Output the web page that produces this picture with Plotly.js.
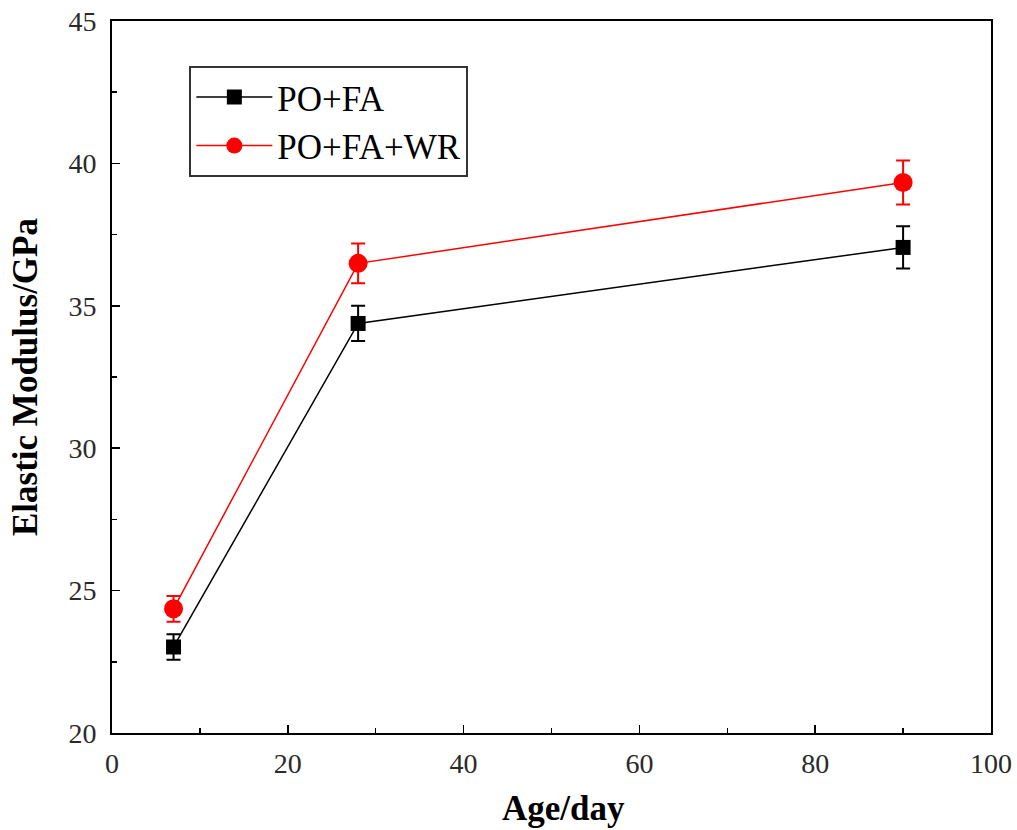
<!DOCTYPE html>
<html><head><meta charset="utf-8">
<script src="https://cdn.plot.ly/plotly-3.0.1.min.js"></script>
<style>body{margin:0;background:#fff}#c{width:1017px;height:830px}</style>
</head><body><div id="c"></div>
<script>
const ages = [7, 28, 90];
const poFA = [23.02, 34.38, 37.05];
const poFAErr = [0.45, 0.62, 0.74];
const poFAWR = [24.36, 36.49, 39.33];
const poFAWRErr = [0.45, 0.7, 0.77];
const seriesNames = ['PO+FA', 'PO+FA+WR'];
const xTitle = 'Age/day';
const yTitle = 'Elastic Modulus/GPa';

const font = 'Liberation Serif, Times New Roman, serif';
const traces = [
  {x: ages, y: poFA, name: seriesNames[0], type: 'scatter', mode: 'lines+markers',
   line: {color: '#000', width: 1.5}, marker: {symbol: 'square', size: 15, color: '#000'},
   error_y: {type: 'data', array: poFAErr, visible: true, color: '#000', thickness: 2, width: 7}},
  {x: ages, y: poFAWR, name: seriesNames[1], type: 'scatter', mode: 'lines+markers',
   line: {color: '#ff0000', width: 1.5}, marker: {symbol: 'circle', size: 19, color: '#ff0000'},
   error_y: {type: 'data', array: poFAWRErr, visible: true, color: '#ff0000', thickness: 2, width: 7}}
];
const axBase = {showline: true, mirror: true, linecolor: '#000', linewidth: 2, ticks: 'inside',
  ticklen: 8, tickwidth: 1.5, tickcolor: '#000', showgrid: false, zeroline: false,
  tickfont: {family: font, size: 28, color: '#2a2a2a'}};
const layout = {
  width: 1017, height: 830, paper_bgcolor: '#fff', plot_bgcolor: '#fff',
  margin: {l: 112, r: 26, t: 21, b: 97},
  xaxis: Object.assign({}, axBase, {range: [0, 100], dtick: 20, tick0: 0, ticklabelstandoff: 4,
    minor: {dtick: 10, ticks: 'inside', ticklen: 5, tickcolor: '#000', tickwidth: 1.5}}),
  yaxis: Object.assign({}, axBase, {range: [20, 45], dtick: 5, tick0: 20, ticklabelstandoff: 8,
    minor: {dtick: 2.5, ticks: 'inside', ticklen: 5, tickcolor: '#000', tickwidth: 1.5},
    title: {text: '<b>' + yTitle + '</b>', font: {family: font, size: 35, color: '#000'}, standoff: 20}}),
  annotations: [{text: '<b>' + xTitle + '</b>', xref: 'paper', yref: 'paper', x: 0.514, y: -0.106,
    xanchor: 'center', yanchor: 'middle', showarrow: false, font: {family: font, size: 35, color: '#000'}}],
  legend: {x: 0.088, y: 0.937, xanchor: 'left', yanchor: 'top', bordercolor: '#333', borderwidth: 2,
    bgcolor: '#fff', font: {family: font, size: 35, color: '#000'}, tracegroupgap: 0, itemwidth: 76},
  showlegend: true
};
Plotly.newPlot('c', traces, layout, {staticPlot: true});
</script></body></html>
